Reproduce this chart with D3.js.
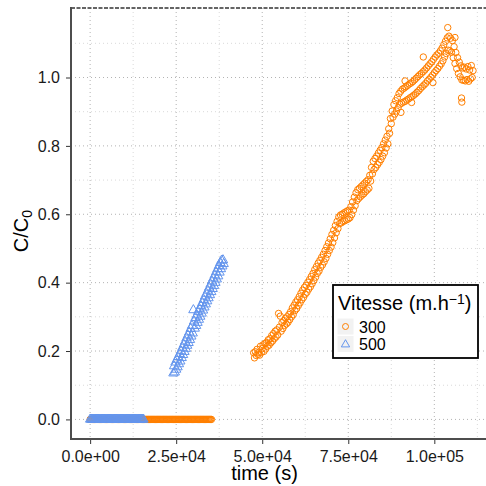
<!DOCTYPE html>
<html><head><meta charset="utf-8">
<script src="https://cdn.jsdelivr.net/npm/d3@7"></script>
<style>body{margin:0;background:#fff}svg{display:block;font-family:"Liberation Sans",Arial,sans-serif}</style>
</head><body>
<svg id="c" width="486" height="486"></svg>
<script>
// ---- data ----
const seriesNames = ["300", "500"];
const seriesColors = ["#FF7F00", "#6495ED"];
const xTicks = [0, 25000, 50000, 75000, 100000];
const xTickLabels = ["0.0e+00", "2.5e+04", "5.0e+04", "7.5e+04", "1.0e+05"];
const yTicks = [0.0, 0.2, 0.4, 0.6, 0.8, 1.0];
const yTickLabels = ["0.0", "0.2", "0.4", "0.6", "0.8", "1.0"];

// times (s) where C/C0 = 0
const zeroTimes300 = [0,250,500,750,1000,1250,1500,1750,2000,2250,2500,2750,3000,3250,3500,3750,4000,4250,4500,4750,5000,5250,5500,5750,6000,6250,6500,6750,7000,7250,7500,7750,8000,8250,8500,8750,9000,9250,9500,9750,10000,10250,10500,10750,11000,11250,11500,11750,12000,12250,12500,12750,13000,13250,13500,13750,14000,14250,14500,14750,15000,15250,15500,15750,16000,16250,16500,16750,17000,17250,17500,17750,18000,18250,18500,18750,19000,19250,19500,19750,20000,20250,20500,20750,21000,21250,21500,21750,22000,22250,22500,22750,23000,23250,23500,23750,24000,24250,24500,24750,25000,25250,25500,25750,26000,26250,26500,26750,27000,27250,27500,27750,28000,28250,28500,28750,29000,29250,29500,29750,30000,30250,30500,30750,31000,31250,31500,31750,32000,32250,32500,32750,33000,33250,33500,33750,34000,34250,34500,34750,35000,35250];
const zeroTimes500 = [0,250,500,750,1000,1250,1500,1750,2000,2250,2500,2750,3000,3250,3500,3750,4000,4250,4500,4750,5000,5250,5500,5750,6000,6250,6500,6750,7000,7250,7500,7750,8000,8250,8500,8750,9000,9250,9500,9750,10000,10250,10500,10750,11000,11250,11500,11750,12000,12250,12500,12750,13000,13250,13500,13750,14000,14250,14500,14750,15000,15250,15500];

// rising part, series 300: [time (s), C/C0]
const rise300 = [
[47500,.195],[47750,.180],[48000,.198],[48250,.187],[48500,.205],[48750,.190],[49000,.196],[49250,.188],[49500,.214],[49750,.196],
[50000,.207],[50250,.218],[50500,.199],[50750,.222],[51000,.206],[51250,.225],[51500,.214],[51750,.233],[52000,.217],[52250,.236],
[52500,.224],[52750,.245],[53000,.229],[53250,.251],[53500,.236],[53750,.258],[54000,.241],[54250,.262],[54500,.247],[54750,.310],
[55000,.270],[55250,.302],[55500,.258],[55750,.283],[56000,.266],[56250,.289],[56500,.275],[56750,.296],[57000,.279],[57250,.300],
[57500,.284],[57750,.307],[58000,.292],[58250,.315],[58500,.300],[58750,.326],[59000,.306],[59250,.334],[59500,.318],[59750,.343],
[60000,.324],[60250,.350],[60500,.333],[60750,.359],[61000,.341],[61250,.369],[61500,.350],[61750,.378],[62000,.357],[62250,.386],
[62500,.366],[62750,.392],[63000,.372],[63250,.401],[63500,.381],[63750,.409],[64000,.388],[64250,.418],[64500,.397],[64750,.427],
[65000,.406],[65250,.438],[65500,.416],[65750,.447],[66000,.427],[66250,.457],[66500,.434],[66750,.465],[67000,.445],[67250,.474],
[67500,.452],[67750,.483],[68000,.461],[68250,.494],[68500,.471],[68750,.505],[69000,.483],[69250,.516],[69500,.494],[69750,.528],
[70000,.504],[70250,.541],[70500,.517],[70750,.553],[71000,.531],[71250,.567],[71500,.546],[71750,.579],[72000,.558],[72250,.592],
[72500,.573],[72750,.598],[73000,.575],[73250,.600],[73500,.579],[73750,.604],[74000,.581],[74250,.607],[74500,.584],[74750,.610],
[75000,.586],[75250,.612],[75500,.590],[75750,.622],[76000,.599],[76250,.636],[76500,.612],[76750,.650],[77000,.625],[77250,.663],
[77500,.640],[77750,.672],[78000,.646],[78250,.676],[78500,.651],[78750,.681],[79000,.656],[79250,.686],[79500,.660],[79750,.691],
[80000,.666],[80250,.696],[80500,.671],[80750,.701],[81000,.676],[81250,.714],[81500,.697],[81750,.737],[82000,.718],[82250,.755],
[82500,.731],[82750,.763],[83000,.737],[83250,.770],[83500,.745],[83750,.779],[84000,.752],[84250,.787],[84500,.760],[84750,.795],
[85000,.770],[85250,.806],[85500,.780],[85750,.817],[86000,.794],[86250,.828],[86500,.806],[86750,.850],[87000,.837],[87250,.880],
[87500,.865],[87750,.902],[88000,.884],[88250,.921],[88500,.893],[88750,.932],[89000,.902],[89250,.941],[89500,.912],[89750,.953],
[90000,.922],[90250,.960],[90300,.898],[90500,.925],[90750,.966],[91000,.928],[91250,.969],[91500,.990],[91500,.930],[91750,.973],
[92000,.934],[92250,.977],[92500,.937],[92750,.981],[93000,.941],[93250,.984],[93400,.927],[93500,.944],[93750,.988],[94000,.948],
[94250,.993],[94500,.952],[94750,.998],[95000,.957],[95250,1.003],[95500,.962],[95750,1.008],[96000,.968],[96250,1.012],[96500,.973],
[96750,1.017],[96800,1.060],[97000,.978],[97250,1.022],[97500,.983],[97750,1.028],[98000,.990],[98250,1.034],[98500,.995],[98750,1.040],
[99000,1.001],[99250,1.046],[99500,1.007],[99600,.985],[99750,1.053],[100000,1.014],[100250,1.060],[100500,1.020],[100750,1.066],[101000,1.026],
[101250,1.071],[101500,1.033],[101750,1.078],[102000,1.040],[102250,1.086],[102500,1.049],[102750,1.096],[103000,1.060],[103250,1.106],[103500,1.070],
[103750,1.116],[103900,1.146],[104000,1.080],[104250,1.121],[104500,1.078],[104750,1.115],[105000,1.074],[105250,1.108],[105500,1.058],[105750,1.090],
[106000,1.117],[106000,1.041],[106250,1.073],[106500,1.026],[106750,1.058],[107000,1.012],[107250,1.045],[107500,1.002],[107750,1.034],[107900,.940],
[108000,.928],[108000,.993],[108250,1.028],[108500,.992],[108750,1.030],[109000,.990],[109250,1.025],[109500,.994],[109750,1.032],[110000,.989],
[110250,1.022],[110500,.996],[110750,1.035],[111000,1.000],[111250,1.020]
];

// rising part, series 500: [time (s), C/C0]
const rise500 = [
[24200,.135],[24400,.156],[24600,.138],[24800,.167],[25000,.146],[25200,.175],[25400,.153],[25600,.183],[25800,.162],[26000,.192],
[26200,.170],[26400,.200],[26600,.180],[26800,.210],[27000,.189],[27200,.219],[27400,.198],[27600,.228],[27800,.207],[28000,.238],
[28200,.216],[28400,.246],[28600,.224],[28800,.255],[29000,.233],[29200,.265],[29400,.243],[29600,.274],[29800,.252],[30000,.320],
[30200,.287],[30400,.266],[30600,.297],[30800,.274],[31000,.305],[31200,.283],[31400,.315],[31600,.292],[31800,.323],[32000,.301],
[32200,.332],[32400,.310],[32600,.341],[32800,.319],[33000,.350],[33200,.328],[33400,.360],[33600,.337],[33800,.368],[34000,.346],
[34200,.377],[34400,.355],[34600,.386],[34800,.364],[35000,.395],[35200,.373],[35400,.404],[35600,.382],[35800,.413],[36000,.391],
[36200,.422],[36400,.400],[36600,.431],[36800,.410],[37000,.440],[37200,.419],[37400,.449],[37600,.430],[37800,.458],[38000,.440],
[38200,.465],[38400,.448],[38600,.466],[38800,.455]
];

// ---- build points ----
const pts300 = zeroTimes300.map(t => ({t, v: 0})).concat(rise300.map(d => ({t: d[0], v: d[1]})));
const pts500 = zeroTimes500.map(t => ({t, v: 0})).concat(rise500.map(d => ({t: d[0], v: d[1]})));

const svg = d3.select("#c");
const pLeft = 71, pRight = 492, pTop = 8, pBottom = 439;
const x = d3.scaleLinear().domain([-5560, 116760]).range([pLeft, pRight]);
const y = d3.scaleLinear().domain([-0.0573, 1.2033]).range([pBottom, pTop]);

svg.append("rect").attr("width", 486).attr("height", 486).attr("fill", "#fff");

// grid
const g = svg.append("g");
const xMinor = [12500, 37500, 62500, 87500, 112500];
const yMinor = [0.1, 0.3, 0.5, 0.7, 0.9, 1.1];
g.selectAll(".xm").data(xMinor).join("line")
  .attr("x1", d => x(d)).attr("x2", d => x(d)).attr("y1", pTop).attr("y2", pBottom)
  .attr("stroke", "#d9d9d9").attr("stroke-width", 1).attr("stroke-dasharray", "1,3");
g.selectAll(".ym").data(yMinor).join("line")
  .attr("y1", d => y(d)).attr("y2", d => y(d)).attr("x1", pLeft).attr("x2", 486)
  .attr("stroke", "#d9d9d9").attr("stroke-width", 1).attr("stroke-dasharray", "1,3");
g.selectAll(".xM").data(xTicks).join("line")
  .attr("x1", d => x(d)).attr("x2", d => x(d)).attr("y1", pTop).attr("y2", pBottom)
  .attr("stroke", "#b3b3b3").attr("stroke-width", 1).attr("stroke-dasharray", "1,3");
g.selectAll(".yM").data(yTicks).join("line")
  .attr("y1", d => y(d)).attr("y2", d => y(d)).attr("x1", pLeft).attr("x2", 486)
  .attr("stroke", "#b3b3b3").attr("stroke-width", 1).attr("stroke-dasharray", "1,3");

// top border (dashed)
svg.append("line").attr("x1", pLeft).attr("x2", 486).attr("y1", pTop).attr("y2", pTop)
  .attr("stroke", "#333").attr("stroke-width", 1.6).attr("stroke-dasharray", "4,1.5");

// points
svg.append("g").selectAll("circle").data(pts300).join("circle")
  .attr("cx", d => x(d.t)).attr("cy", d => y(d.v)).attr("r", 3.2)
  .attr("fill", "none").attr("stroke", seriesColors[0]).attr("stroke-width", 1);
const tri = d3.symbol(d3.symbolTriangle, 38);
svg.append("g").selectAll("path").data(pts500).join("path")
  .attr("d", tri).attr("transform", d => `translate(${x(d.t)},${y(d.v)})`)
  .attr("fill", "none").attr("stroke", seriesColors[1]).attr("stroke-width", 1);

// axes
const xAxis = svg.append("g").attr("transform", `translate(0,${pBottom})`)
  .call(d3.axisBottom(x).tickValues(xTicks).tickFormat((d, i) => xTickLabels[i]).tickSize(5).tickPadding(6.5));
const yAxis = svg.append("g").attr("transform", `translate(${pLeft},0)`)
  .call(d3.axisLeft(y).tickValues(yTicks).tickFormat((d, i) => yTickLabels[i]).tickSize(5).tickPadding(6));
[xAxis, yAxis].forEach(a => {
  a.select(".domain").remove();
  a.selectAll(".tick line").attr("stroke", "#333");
  a.selectAll(".tick text").attr("fill", "#1a1a1a").style("font-size", "16px").style("font-family", "Liberation Sans, Arial, sans-serif");
});
svg.append("line").attr("x1", pLeft).attr("x2", pLeft).attr("y1", pTop - 1).attr("y2", pBottom + 1)
  .attr("stroke", "#4d4d4d").attr("stroke-width", 2);
svg.append("line").attr("x1", pLeft - 1).attr("x2", 486).attr("y1", pBottom).attr("y2", pBottom)
  .attr("stroke", "#4d4d4d").attr("stroke-width", 2);

// axis titles
svg.append("text").attr("x", 264.5).attr("y", 479.5).attr("text-anchor", "middle")
  .style("font-size", "20px").attr("fill", "#000").text("time (s)");
const yt = svg.append("text").attr("transform", "translate(28,231) rotate(-90)").attr("text-anchor", "middle")
  .style("font-size", "20px").attr("fill", "#000");
yt.append("tspan").text("C/C");
yt.append("tspan").attr("baseline-shift", "-25%").style("font-size", "14px").text("0");

// legend
const lg = svg.append("g").attr("transform", "translate(333,285)");
lg.append("rect").attr("width", 145).attr("height", 73).attr("fill", "#fff")
  .attr("stroke", "#000").attr("stroke-width", 1.8);
const lt = lg.append("text").attr("x", 5).attr("y", 25).style("font-size", "20px").attr("fill", "#000");
lt.append("tspan").text("Vitesse (m.h");
lt.append("tspan").attr("baseline-shift", "45%").style("font-size", "14px").text("\u22121");
lt.append("tspan").text(")");
seriesNames.forEach((name, i) => {
  const ky = 33 + i * 17.5;
  lg.append("rect").attr("x", 4).attr("y", ky).attr("width", 17).attr("height", 17)
    .attr("fill", "#f2f2f2").attr("stroke", "#fff").attr("stroke-width", 1);
  if (i === 0) {
    lg.append("circle").attr("cx", 12.5).attr("cy", ky + 8.5).attr("r", 3)
      .attr("fill", "none").attr("stroke", seriesColors[0]).attr("stroke-width", 1);
  } else {
    lg.append("path").attr("d", d3.symbol(d3.symbolTriangle, 30)).attr("transform", `translate(12.5,${ky + 9})`)
      .attr("fill", "none").attr("stroke", seriesColors[1]).attr("stroke-width", 1);
  }
  lg.append("text").attr("x", 26).attr("y", ky + 14.5).style("font-size", "16px").attr("fill", "#000").text(name);
});
</script>
</body></html>
